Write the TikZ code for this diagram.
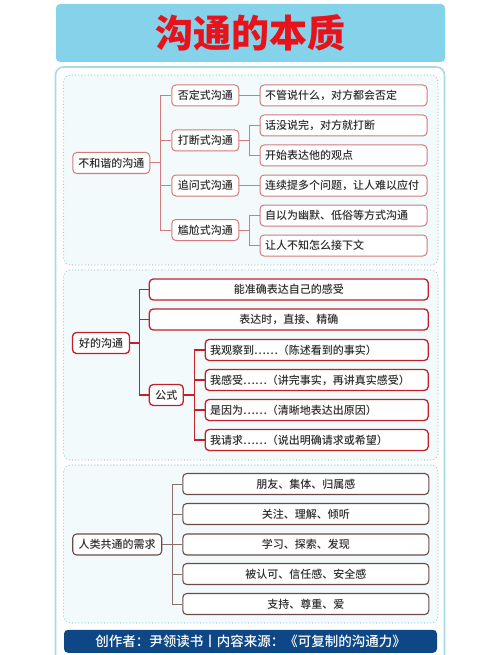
\documentclass[tikz,border=0pt]{standalone}
\usepackage{fontspec}
\setmainfont{Noto Sans CJK SC}[UprightFont=* Medium, BoldFont=* Bold]
\newfontfamily\qtheavy{Noto Sans CJK SC Black}
\usetikzlibrary{positioning, calc}
\usepackage{xcolor}
\definecolor{qtsky}{HTML}{84D3EA}
\definecolor{qtred}{HTML}{E8121A}
\definecolor{qtframe}{HTML}{A6DBE6}
\definecolor{qtdots}{HTML}{9ACFDD}
\definecolor{qtpane}{HTML}{F3FAFC}
\definecolor{qtpink}{HTML}{D37A7C}
\definecolor{qtcrimson}{HTML}{C2202A}
\definecolor{qtbrown}{HTML}{6C4A47}
\definecolor{qtnavy}{HTML}{0E4786}
\definecolor{qttext}{HTML}{2E2E2E}

\begin{document}
\begin{tikzpicture}[x=1pt, y=-1pt, font=\fontsize{11}{13}\selectfont,
    box/.style={rounded corners=4pt, fill=white, text=qttext, inner xsep=5pt,
                inner ysep=0pt, minimum height=21pt},
    pinkbox/.style={box, draw=qtpink, line width=1pt},
    redbox/.style={box, draw=qtcrimson, line width=1.3pt},
    brownbox/.style={box, draw=qtbrown, line width=1.1pt},
    pinkline/.style={draw=qtpink, line width=1pt},
    redline/.style={draw=qtcrimson, line width=1.2pt},
    brownline/.style={draw=qtbrown!80, line width=1pt},
    pane/.style={draw=qtdots, fill=qtpane, line width=1.3pt, line cap=round,
                 dash pattern=on 0pt off 3.2pt, rounded corners=7pt}]
    \clip (0,0) rectangle (500,655);
    \fill[white] (0,0) rectangle (500,655);

    % title and outer frame
    \node[fill=qtsky, rounded corners=4pt, minimum width=389pt, minimum height=58pt,
          text=qtred, font=\fontsize{38}{40}\selectfont\qtheavy] (title) at (250.5,33)
          {沟通的本质};
    \draw[draw=qtframe, fill=white, line width=1.6pt, rounded corners=8pt]
          (55.5,67) rectangle (444.5,672);
    \draw[pane] (63.5,75) rectangle (438,265);
    \draw[pane] (63.5,270) rectangle (438,460);
    \draw[pane] (63.5,465) rectangle (438,623);

    % section 1
    \node[pinkbox, minimum width=77pt] (bad) at (111.3,163) {不和谐的沟通};
    \node[pinkbox, minimum width=67pt] (deny) at (205.3,95.5) {否定式沟通};
    \node[pinkbox, minimum width=67pt] (cut) at (205.3,140.5) {打断式沟通};
    \node[pinkbox, minimum width=67pt] (chase) at (205.3,185.5) {追问式沟通};
    \node[pinkbox, minimum width=67pt] (awk) at (205.3,230) {尴尬式沟通};
    \node[pinkbox, text width=157pt, align=left] (deny1) at (343.5,95.5) {不管说什么，对方都会否定};
    \node[pinkbox, text width=157pt, align=left] (cut1) at (343.5,125.5) {话没说完，对方就打断};
    \node[pinkbox, text width=157pt, align=left] (cut2) at (343.5,155.5) {开始表达他的观点};
    \node[pinkbox, text width=157pt, align=left] (chase1) at (343.5,185.5) {连续提多个问题，让人难以应付};
    \node[pinkbox, text width=157pt, align=left] (awk1) at (343.5,215.5) {自以为幽默、低俗等方式沟通};
    \node[pinkbox, text width=157pt, align=left] (awk2) at (343.5,245.5) {让人不知怎么接下文};
    \foreach \m in {deny, cut, chase, awk}
      \draw[pinkline] (bad.east) -- ++(10,0) |- (\m.west);
    \draw[pinkline] (deny.east) -- (deny1.west);
    \foreach \l in {cut1, cut2}
      \draw[pinkline] (cut.east) -- ++(10.5,0) |- (\l.west);
    \draw[pinkline] (chase.east) -- (chase1.west);
    \foreach \l in {awk1, awk2}
      \draw[pinkline] (awk.east) -- ++(10.5,0) |- (\l.west);

    % section 2
    \node[redbox, minimum width=57pt] (good) at (101,343) {好的沟通};
    \node[redbox, minimum width=279pt] (feel) at (288.8,289.5) {能准确表达自己的感受};
    \node[redbox, minimum width=279pt] (direct) at (288.8,319.5) {表达时，直接、精确};
    \node[redbox, minimum width=34pt] (rule) at (166.3,395) {公式};
    \node[redbox, text width=213pt, align=left] (see) at (316.7,350) {我观察到……（陈述看到的事实）};
    \node[redbox, text width=213pt, align=left] (sense) at (316.7,380) {我感受……（讲完事实，再讲真实感受）};
    \node[redbox, text width=213pt, align=left] (cause) at (316.7,410) {是因为……（清晰地表达出原因）};
    \node[redbox, text width=213pt, align=left] (ask) at (316.7,440) {我请求……（说出明确请求或希望）};
    \foreach \m in {feel, direct, rule}
      \draw[redline] (good.east) -- ++(9,0) |- (\m.west);
    \foreach \l in {see, sense, cause, ask}
      \draw[redline] (rule.east) -- ++(10.5,0) |- (\l.west);

    % section 3
    \node[brownbox, minimum width=89pt] (need) at (117.2,544.5) {人类共通的需求};
    \node[brownbox, minimum width=246pt] (n1) at (305.8,484) {朋友、集体、归属感};
    \node[brownbox, minimum width=246pt] (n2) at (305.8,514) {关注、理解、倾听};
    \node[brownbox, minimum width=246pt] (n3) at (305.8,544.5) {学习、探索、发现};
    \node[brownbox, minimum width=246pt] (n4) at (305.8,574) {被认可、信任感、安全感};
    \node[brownbox, minimum width=246pt] (n5) at (305.8,604) {支持、尊重、爱};
    \foreach \l in {n1, n2, n3, n4, n5}
      \draw[brownline] (need.east) -- ++(10,0) |- (\l.west);

    % footer
    \node[fill=qtnavy, rounded corners=4pt, minimum width=373pt, minimum height=23pt,
          text=white, font=\fontsize{13.5}{15}\selectfont] (source) at (250.5,641.3)
          {创作者：尹领读书丨内容来源：《可复制的沟通力》};
\end{tikzpicture}
\end{document}
